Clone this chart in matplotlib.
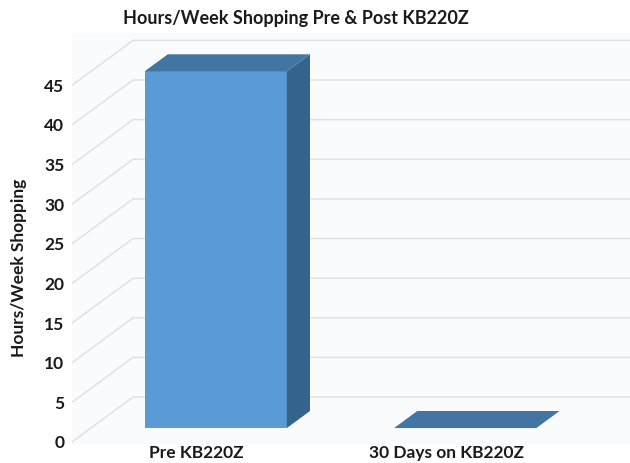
import matplotlib.pyplot as plt
from matplotlib.patches import Polygon

# Data
categories = ['Pre KB220Z', '30 Days on KB220Z']
hours = [45, 0]
yticks = [0, 5, 10, 15, 20, 25, 30, 35, 40, 45]

# fake 3D look (oblique projection), depth offsets in data units
DX, DY = 0.2445, 5.67
front, back = 0.31, 0.69
width = 0.57

plt.rcParams['font.family'] = ['Lato', 'DejaVu Sans']
plt.rcParams['font.weight'] = 'bold'
plt.rcParams['axes.labelweight'] = 'bold'

fig = plt.figure(figsize=(6.3, 4.63), dpi=100)
ax = fig.add_axes([72 / 630, 18 / 463, 558 / 630, 412 / 463])
ax.set_facecolor('#FAFBFC')
ax.set_xlim(-0.5, 1.736)
ax.set_ylim(-0.38, 51.6)

# gridlines: slanted on the side wall, flat on the back wall
xmin, xmax = ax.get_xlim()
for v in yticks:
    ax.plot([xmin, xmin + DX, xmax], [v, v + DY, v + DY],
            color='#E0E1E3', lw=1.1, zorder=1, solid_capstyle='butt')

# bars
ddx = (back - front) * DX
ddy = (back - front) * DY
for i, v in enumerate(hours):
    x0 = i - width / 2 + front * DX
    x1 = x0 + width
    y0 = front * DY
    y1 = y0 + v
    if v > 0:
        ax.add_patch(Polygon([(x0, y0), (x1, y0), (x1, y1), (x0, y1)],
                             closed=True, facecolor='#5B9BD5', edgecolor='none', zorder=3))
        ax.add_patch(Polygon([(x1, y0), (x1 + ddx, y0 + ddy), (x1 + ddx, y1 + ddy), (x1, y1)],
                             closed=True, facecolor='#34648C', edgecolor='none', zorder=3))
    ax.add_patch(Polygon([(x0, y1), (x1, y1), (x1 + ddx, y1 + ddy), (x0 + ddx, y1 + ddy)],
                         closed=True, facecolor='#4275A2', edgecolor='none', zorder=4))

ax.set_yticks(yticks)
ax.set_xticks(range(len(categories)))
ax.set_xticklabels(categories)
ax.tick_params(axis='y', length=0, pad=5.5, labelsize=12.5, labelcolor='#1A1A1A')
ax.tick_params(axis='x', length=0, pad=0, labelsize=12.5, labelcolor='#1A1A1A')
for s in ax.spines.values():
    s.set_visible(False)

ax.set_ylabel('Hours/Week Shopping', fontsize=12.5, color='#1A1A1A')
ax.yaxis.set_label_coords(-0.0806, 0.431)

fig.text(296 / 630, 1 - 24 / 463, 'Hours/Week Shopping Pre & Post KB220Z',
         ha='center', va='baseline', fontsize=13, color='#1A1A1A')

fig.savefig('out.png', dpi=100)
